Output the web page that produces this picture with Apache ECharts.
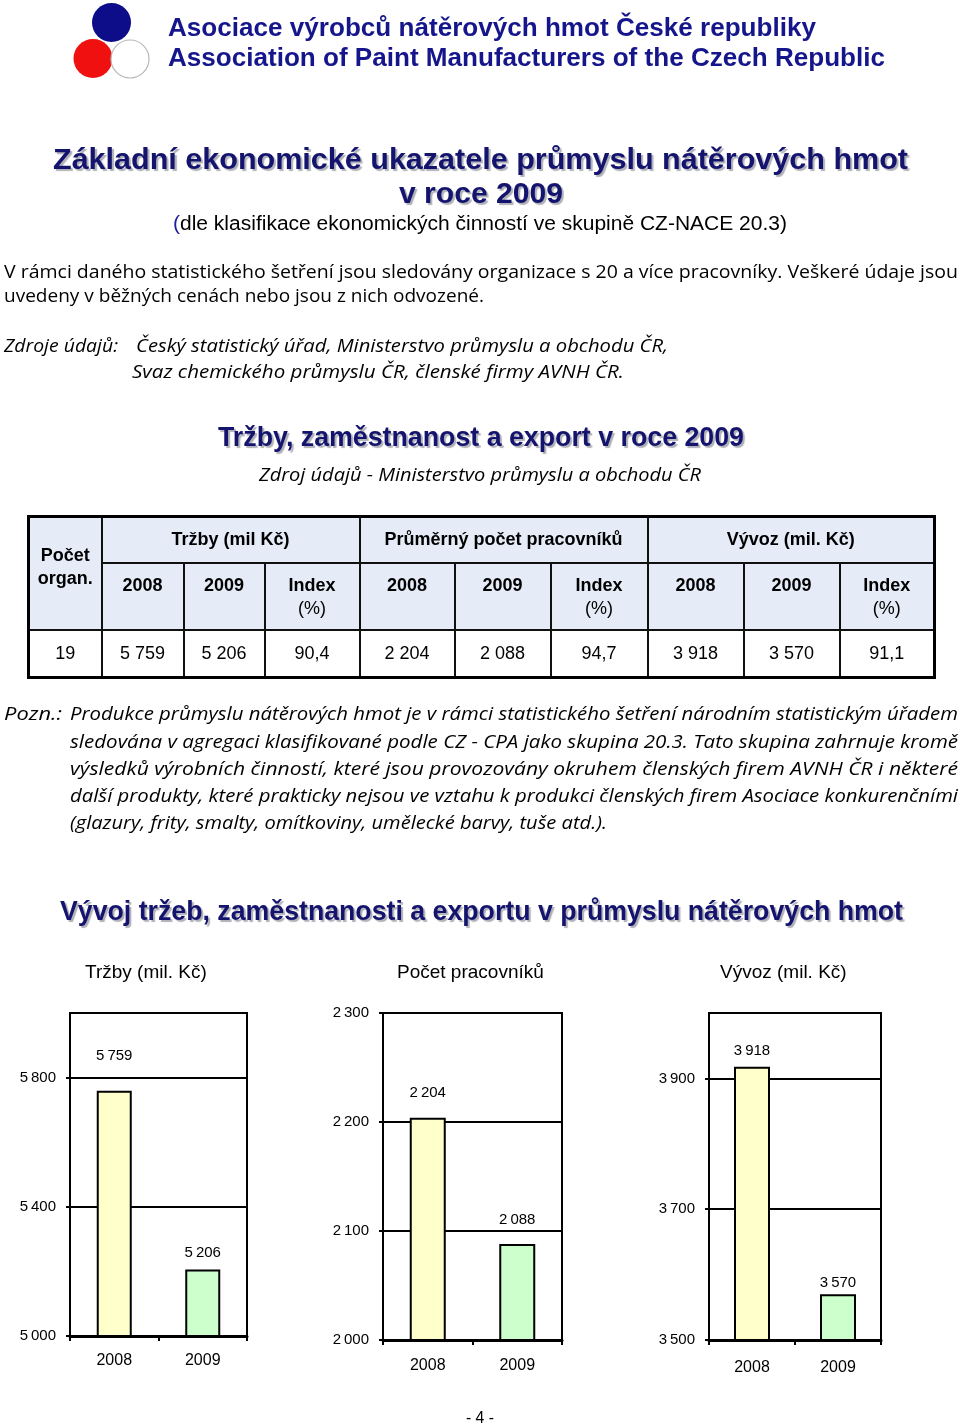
<!DOCTYPE html>
<html><head><meta charset="utf-8">
<script src="https://cdn.jsdelivr.net/npm/echarts@6/dist/echarts.min.js"></script>
<style>
html,body{margin:0;padding:0;background:#fff;}
#page{position:relative;width:960px;height:1426px;overflow:hidden;font-family:"Liberation Sans",Arial,sans-serif;color:#000;}
#chart{position:absolute;left:0;top:0;width:960px;height:1426px;}
.t{position:absolute;white-space:nowrap;line-height:1;transform-origin:0 50%;}
.hd{font-family:"Liberation Sans",Arial,sans-serif;font-weight:bold;font-size:26px;color:#16168c;}
.tt{font-family:"Liberation Sans",Arial,sans-serif;font-weight:bold;font-size:30px;color:#14146e;text-shadow:2px 2px 1px #b0b0b8;}
.tt2{font-size:27px;}
.sb{font-family:"Liberation Sans",Arial,sans-serif;font-size:20px;}
.bd{font-family:"Open Sans","Noto Sans",sans-serif;font-size:19px;}
.it{font-family:"Open Sans","Noto Sans",sans-serif;font-size:19px;font-style:italic;}
.pg{font-family:"Liberation Sans Narrow","Liberation Sans",sans-serif;font-size:16px;}
#tbl{position:absolute;left:27px;top:515px;border-collapse:collapse;table-layout:fixed;font-family:"Liberation Sans",Arial,sans-serif;font-size:18px;}
#tbl td{border:2px solid #111;text-align:center;padding:0;}
#tbl .h{background:#e5ebf7;font-weight:bold;}
#tbl .h2{vertical-align:top;padding-top:10px;line-height:23px;}
#tbl .r{font-weight:normal;}
</style>
</head><body>
<div id="page">
<div id="chart"></div>
<svg style="position:absolute;left:60px;top:0;" width="100" height="90">
  <circle cx="51.5" cy="22.5" r="19.5" fill="#0d0d8a"/>
  <circle cx="33" cy="58.5" r="19.5" fill="#f01010"/>
  <circle cx="70" cy="59" r="19" fill="#fff" stroke="#b8b8b8" stroke-width="1.2"/>
</svg>
<table id="tbl"></table>
<div id="texts"></div>
</div>
<script>
// ---- data ----
const categories = ['2008', '2009'];
const trzby = [5759, 5206];
const pracovnici = [2204, 2088];
const vyvoz = [3918, 3570];
const indexy = [90.4, 94.7, 91.1];
const pocetOrgan = 19;
const trzbyTicks = [5000, 5400, 5800];
const pracTicks = [2000, 2100, 2200, 2300];
const vyvozTicks = [3500, 3700, 3900];
const chartTitles = ['Tržby (mil. Kč)', 'Počet pracovníků', 'Vývoz (mil. Kč)'];
const tableGroups = ['Tržby (mil Kč)', 'Průměrný počet pracovníků', 'Vývoz (mil. Kč)'];

// ---- texts ----
const T = [
 ['Asociace výrobců nátěrových hmot České republiky', 168, 27, 648, 'hd'],
 ['Association of Paint Manufacturers of the Czech Republic', 168, 57, 717, 'hd'],
 ['Základní ekonomické ukazatele průmyslu nátěrových hmot', 53, 159, 855, 'tt'],
 ['v roce 2009', 399, 193, 164, 'tt'],
 ['(dle klasifikace ekonomických činností ve skupině CZ-NACE 20.3)', 173, 223, 614, 'sb'],
 ['V rámci daného statistického šetření jsou sledovány organizace s 20 a více pracovníky. Veškeré údaje jsou', 4, 271, 954, 'bd'],
 ['uvedeny v běžných cenách nebo jsou z nich odvozené.', 4, 295, 480, 'bd'],
 ['Zdroje údajů:', 4, 345, 114, 'it'],
 ['Český statistický úřad, Ministerstvo průmyslu a obchodu ČR,', 136, 345, 532, 'it'],
 ['Svaz chemického průmyslu ČR, členské firmy AVNH ČR.', 132, 371, 492, 'it'],
 ['Tržby, zaměstnanost a export v roce 2009', 218, 438, 526, 'tt tt2'],
 ['Zdroj údajů - Ministerstvo průmyslu a obchodu ČR', 259, 474, 442, 'it'],
 ['Pozn.:', 4, 713, 58, 'it'],
 ['Produkce průmyslu nátěrových hmot je v rámci statistického šetření národním statistickým úřadem', 70, 713, 888, 'it'],
 ['sledována v agregaci klasifikované podle CZ - CPA jako skupina 20.3. Tato skupina zahrnuje kromě', 70, 741, 888, 'it'],
 ['výsledků výrobních činností, které jsou provozovány okruhem členských firem AVNH ČR i některé', 70, 768, 888, 'it'],
 ['další produkty, které prakticky nejsou ve vztahu k produkci členských firem Asociace konkurenčními', 70, 795, 888, 'it'],
 ['(glazury, frity, smalty, omítkoviny, umělecké barvy, tuše atd.).', 70, 822, 537, 'it'],
 ['Vývoj tržeb, zaměstnanosti a exportu v průmyslu nátěrových hmot', 60, 912, 843, 'tt tt2'],
 ['- 4 -', 466, 1418, 28, 'pg']
];
const box = document.getElementById('texts');
T.forEach(([txt, x, y, w, cls]) => {
  const el = document.createElement('div');
  el.className = 't ' + cls;
  if (txt.startsWith('(dle')) {
    const s = document.createElement('span'); s.style.color = '#1e1ea0'; s.textContent = '(';
    el.appendChild(s); el.appendChild(document.createTextNode(txt.slice(1)));
  } else el.textContent = txt;
  box.appendChild(el);
  const fs = parseFloat(getComputedStyle(el).fontSize);
  el.style.left = x + 'px';
  el.style.top = (y - 0.55 * fs + 1) + 'px';
  const rw = el.getBoundingClientRect().width;
  el.style.transform = 'scaleX(' + (w / rw) + ')';
});

// ---- table ----
const fmtT = v => String(v).replace(/\B(?=(\d{3})+(?!\d))/g, ' ');
const fmtI = v => v.toFixed(1).replace('.', ',');
const colW = [73, 82, 81, 95, 95, 96, 97, 96, 96, 95];
const pairs = [trzby, pracovnici, vyvoz];
let html = '<colgroup>' + colW.map(w => '<col style="width:' + w + 'px">').join('') + '</colgroup>';
html += '<tr style="height:46px"><td class="h" rowspan="2" style="vertical-align:top;padding-top:26px;line-height:23px">Počet<br>organ.</td>' +
  tableGroups.map(g => '<td class="h" colspan="3">' + g + '</td>').join('') + '</tr>';
html += '<tr style="height:67px">' + pairs.map(() =>
  categories.map(c => '<td class="h h2">' + c + '</td>').join('') +
  '<td class="h h2">Index<br><span class="r">(%)</span></td>').join('') + '</tr>';
html += '<tr style="height:48px"><td>' + pocetOrgan + '</td>' + pairs.map((p, i) =>
  '<td>' + fmtT(p[0]) + '</td><td>' + fmtT(p[1]) + '</td><td>' + fmtI(indexy[i]) + '</td>').join('') + '</tr>';
const tbl = document.getElementById('tbl');
tbl.innerHTML = html;
tbl.style.border = '3px solid #000';
tbl.style.width = '906px';

// ---- charts ----
const fmt = v => String(v).replace(/\B(?=(\d{3})+(?!\d))/g, '\u2009');
const seriesData = [trzby, pracovnici, vyvoz];
const tickSets = [trzbyTicks, pracTicks, vyvozTicks];
const ranges = [[5000, 6000], [2000, 2300], [3500, 4000]];
const grids = [
  {left: 70, top: 1013, width: 177, height: 323},
  {left: 383, top: 1013, width: 179, height: 327},
  {left: 709, top: 1013, width: 172, height: 327}
];
const titlePos = [[85, 963], [397, 963], [720, 963]];
const barW = [35, 36, 36];
const gaps = [[27, 9], [17, 17], [8, 4]];
const xMargin = [17, 18, 20];
const barColors = ['#ffffcc', '#ccffcc'];

const chart = echarts.init(document.getElementById('chart'), null, {renderer: 'canvas'});
chart.setOption({
  animation: false,
  title: chartTitles.map((t, c) => ({
    text: t, left: titlePos[c][0], top: titlePos[c][1], padding: 0,
    textStyle: {fontFamily: 'Liberation Sans', fontSize: 19, fontWeight: 'normal', color: '#000'}
  })),
  grid: grids.map(g => Object.assign({show: true, borderColor: '#000', borderWidth: 2, backgroundColor: 'transparent'}, g)),
  xAxis: grids.map((g, c) => ({
    gridIndex: c, type: 'category', data: categories,
    axisLine: {show: true, lineStyle: {color: '#000', width: 3}},
    axisTick: {show: true, length: 5, lineStyle: {color: '#000', width: 2}},
    axisLabel: {fontSize: 16, color: '#000', margin: xMargin[c], fontFamily: 'Liberation Sans'}
  })),
  yAxis: grids.map((g, c) => ({
    gridIndex: c, type: 'value', min: ranges[c][0], max: ranges[c][1],
    axisLine: {show: true, lineStyle: {color: '#000', width: 2}},
    axisTick: {show: true, length: 4, customValues: tickSets[c], lineStyle: {color: '#000', width: 2}},
    axisLabel: {customValues: tickSets[c], formatter: fmt, fontSize: 15, color: '#000', margin: 14, fontFamily: 'Liberation Sans'},
    splitLine: {show: true, lineStyle: {color: '#000', width: 2}}
  })),
  series: seriesData.map((vals, c) => ({
    type: 'bar', xAxisIndex: c, yAxisIndex: c, barWidth: barW[c],
    data: vals.map((v, i) => ({value: v, itemStyle: {color: barColors[i]}, label: {distance: gaps[c][i]}})),
    itemStyle: {borderColor: '#000', borderWidth: 2},
    label: {show: true, position: 'top', formatter: p => fmt(p.value), fontSize: 15, color: '#000', fontFamily: 'Liberation Sans'}
  }))
});
</script>
</body></html>
